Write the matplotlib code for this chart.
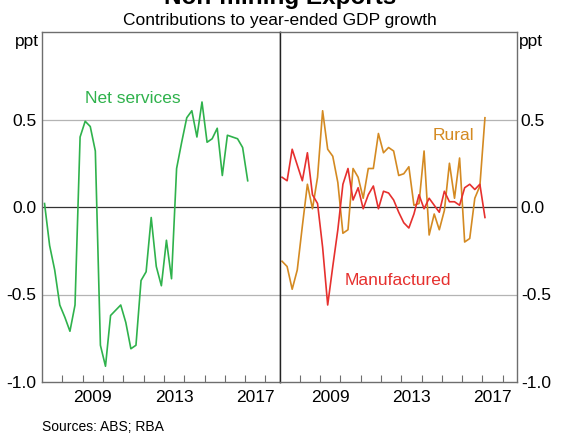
import numpy as np
import matplotlib.pyplot as plt

plt.rcParams['font.family'] = ['Liberation Sans', 'DejaVu Sans']

# quarterly data, Mar 2007 to Mar 2017 (plotted mid-quarter)
start_year = 2007
n_q = 41

net_services = [0.02, -0.22, -0.36, -0.56, -0.63, -0.71, -0.56, 0.40, 0.49, 0.46,
                0.32, -0.79, -0.91, -0.62, -0.59, -0.56, -0.66, -0.81, -0.79, -0.42,
                -0.37, -0.06, -0.34, -0.45, -0.19, -0.41, 0.22, 0.37, 0.51, 0.55,
                0.40, 0.60, 0.37, 0.39, 0.45, 0.18, 0.41, 0.40, 0.39, 0.34, 0.15]

rural = [-0.31, -0.34, -0.47, -0.36, -0.11, 0.13, -0.01, 0.17, 0.55, 0.33,
         0.29, 0.14, -0.15, -0.13, 0.22, 0.17, 0.05, 0.22, 0.22, 0.42,
         0.31, 0.34, 0.32, 0.18, 0.19, 0.23, 0.01, 0.02, 0.32, -0.16,
         -0.04, -0.13, -0.02, 0.25, 0.05, 0.28, -0.20, -0.18, 0.05, 0.12, 0.51]

manufactured = [0.17, 0.15, 0.33, 0.24, 0.15, 0.31, 0.07, 0.02, -0.23, -0.56,
                -0.34, -0.13, 0.13, 0.22, 0.04, 0.11, -0.01, 0.07, 0.12, -0.01,
                0.09, 0.08, 0.04, -0.03, -0.09, -0.12, -0.04, 0.07, -0.01, 0.05,
                0.01, -0.03, 0.09, 0.03, 0.03, 0.01, 0.11, 0.13, 0.10, 0.13, -0.06]

t = start_year + 0.125 + 0.25 * np.arange(n_q)

green = '#2fb24c'
orange = '#d48a22'
red = '#e6302e'
frame = '#6e6e6e'
fs = 12.5

fig = plt.figure(figsize=(5.62, 4.34), dpi=100)
W, H = 562, 434
x0, x1, xm = 42, 516.7, 279.5
y_top, y_bot = 32, 382
ax1 = fig.add_axes([x0 / W, 1 - y_bot / H, (xm - x0) / W, (y_bot - y_top) / H])
ax2 = fig.add_axes([xm / W, 1 - y_bot / H, (x1 - xm) / W, (y_bot - y_top) / H])

for ax in (ax1, ax2):
    ax.set_xlim(2007, 2018.69)
    ax.set_ylim(-1.0, 1.0)
    ax.axhline(0.5, color='#b4b4b4', lw=0.9, zorder=0)
    ax.axhline(-0.5, color='#b4b4b4', lw=0.9, zorder=0)
    ax.axhline(0.0, color='#333333', lw=0.9, zorder=1)
    ax.set_xticks(np.arange(2008, 2019))
    ax.set_xticklabels([])
    ax.tick_params(axis='x', which='major', direction='in', length=5, width=0.8, color=frame)
    ax.set_xticks([2009.5, 2013.5, 2017.5], minor=True)
    ax.set_xticklabels(['2009', '2013', '2017'], minor=True, fontsize=fs)
    ax.tick_params(axis='x', which='minor', length=0, pad=6)
    ax.set_yticks([-1.0, -0.5, 0.0, 0.5])
    ax.set_yticklabels(['-1.0', '-0.5', '0.0', '0.5'], fontsize=fs)
    for s in ax.spines.values():
        s.set_color(frame)
        s.set_linewidth(1.0)

ax1.tick_params(axis='y', length=0, pad=4)
ax1.spines['right'].set_color('#222222')
ax2.spines['left'].set_color('#222222')
ax2.yaxis.tick_right()
ax2.tick_params(axis='y', length=0, pad=3)

ax1.plot(t, net_services, color=green, lw=1.2)
ax2.plot(t, rural, color=orange, lw=1.2)
ax2.plot(t, manufactured, color=red, lw=1.2)

ax1.text(2009.12, 0.62, 'Net services', color=green, fontsize=fs, va='center', ha='left')
ax2.text(2014.54, 0.41, 'Rural', color=orange, fontsize=fs, va='center', ha='left')
ax2.text(2010.22, -0.42, 'Manufactured', color=red, fontsize=fs, va='center', ha='left')

fig.text(39 / W, 1 - 46 / H, 'ppt', fontsize=fs, ha='right', va='baseline')
fig.text(519 / W, 1 - 46 / H, 'ppt', fontsize=fs, ha='left', va='baseline')

fig.text(280 / W, 1 - 4 / H, 'Non-mining Exports', fontsize=17.5, fontweight='bold',
         ha='center', va='baseline')
fig.text(280 / W, 1 - 25 / H, 'Contributions to year-ended GDP growth', fontsize=fs,
         ha='center', va='baseline')
fig.text(42 / W, 1 - 431 / H, 'Sources: ABS; RBA', fontsize=10, ha='left', va='baseline')

fig.savefig('out.png', dpi=100)
